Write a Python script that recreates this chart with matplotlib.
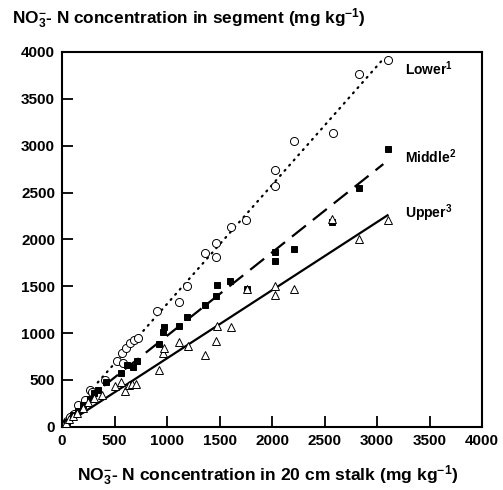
import matplotlib
matplotlib.use("Agg")
import matplotlib.pyplot as plt
import numpy as np

plt.rcParams['font.family'] = ['Liberation Sans', 'DejaVu Sans']
plt.rcParams['font.weight'] = 'bold'
plt.rcParams['mathtext.fontset'] = 'custom'
plt.rcParams['mathtext.bf'] = 'Liberation Sans:bold'
plt.rcParams['mathtext.rm'] = 'Liberation Sans:bold'
plt.rcParams['mathtext.default'] = 'bf'

# Lower segment (open circles)
lower_x = [50, 80, 110, 150, 220, 270, 290, 410, 520, 580, 570, 610, 650, 690, 720,
           900, 1110, 1190, 1360, 1470, 1470, 1610, 1750, 2030, 2030, 2210, 2580, 2830, 3100]
lower_y = [60, 100, 140, 230, 290, 390, 370, 500, 700, 680, 790, 840, 890, 930, 950,
           1230, 1330, 1500, 1850, 1810, 1960, 2130, 2210, 2570, 2740, 3050, 3140, 3770, 3910]

# Middle segment (filled squares)
middle_x = [50, 100, 150, 200, 270, 300, 340, 420, 560, 620, 680, 710, 920, 960, 970,
            1110, 1190, 1360, 1470, 1480, 1600, 1760, 2030, 2030, 2210, 2570, 2830, 3100]
middle_y = [55, 120, 170, 230, 300, 360, 390, 480, 570, 660, 640, 700, 880, 1010, 1060,
            1070, 1170, 1300, 1390, 1510, 1560, 1470, 1770, 1870, 1900, 2190, 2550, 2960]

# Upper segment (open triangles)
upper_x = [40, 70, 100, 140, 200, 250, 300, 380, 500, 560, 600, 640, 670, 700, 920,
           960, 970, 1110, 1200, 1360, 1470, 1480, 1610, 1760, 2030, 2030, 2210, 2570, 2830, 3100]
upper_y = [40, 80, 110, 150, 200, 260, 310, 340, 430, 480, 380, 450, 460, 460, 610,
           790, 840, 900, 860, 760, 910, 1070, 1060, 1470, 1410, 1500, 1470, 2220, 2000, 2210]

# Fitted lines (intercept, slope, x-range)
lower_fit = (40, 1.27, 340, 3040)
middle_fit = (80, 0.89, 400, 3060)
upper_fit = (3, 0.727, 30, 3100)

series_labels = ['Lower$^{1}$', 'Middle$^{2}$', 'Upper$^{3}$']
label_pos_x = [3270, 3270, 3270]
label_pos_y = [3822, 2879, 2277]

fig = plt.figure(figsize=(5.03, 4.90), dpi=100)
ax = fig.add_axes([0.1233, 0.1292, 0.8350, 0.7647])

ax.plot(lower_x, lower_y, linestyle='none', marker='o', mfc='white', mec='black',
        mew=0.7, ms=5.8, zorder=3)
ax.plot(middle_x, middle_y, linestyle='none', marker='s', mfc='black', mec='black',
        mew=0.7, ms=5, zorder=3)
ax.plot(upper_x, upper_y, linestyle='none', marker='^', mfc='white', mec='black',
        mew=0.7, ms=6, zorder=3)

styles = [(0, (0.5, 2.6)), (0, (8, 4)), '-']
for (a, b, x0, x1), ls in zip([lower_fit, middle_fit, upper_fit], styles):
    xs = np.array([x0, x1])
    ax.plot(xs, a + b * xs, color='black', linestyle=ls, linewidth=1.6, zorder=2,
            dash_capstyle='round' if ls == styles[0] else 'butt')

for t, x, y in zip(series_labels, label_pos_x, label_pos_y):
    ax.text(x, y, t, fontsize=10, fontweight='bold', ha='left', va='center')

ax.set_xlim(0, 4000)
ax.set_ylim(0, 4000)
ax.set_xticks(np.arange(0, 4001, 500))
ax.set_yticks(np.arange(0, 4001, 500))
ax.tick_params(direction='in', length=8, width=1.3, labelsize=11, pad=5)
for lab in ax.get_xticklabels() + ax.get_yticklabels():
    lab.set_fontweight('bold')
for s in ax.spines.values():
    s.set_linewidth(1.5)

fig.text(0.024, 0.962, r'NO$_3^{-}$- N concentration in segment (mg kg$^{-1}$)',
         fontsize=12.4, fontweight='bold', ha='left', va='center')
fig.text(0.532, 0.03, r'NO$_3^{-}$- N concentration in 20 cm stalk (mg kg$^{-1}$)',
         fontsize=12.6, fontweight='bold', ha='center', va='center')

fig.savefig('out.png', dpi=100)
